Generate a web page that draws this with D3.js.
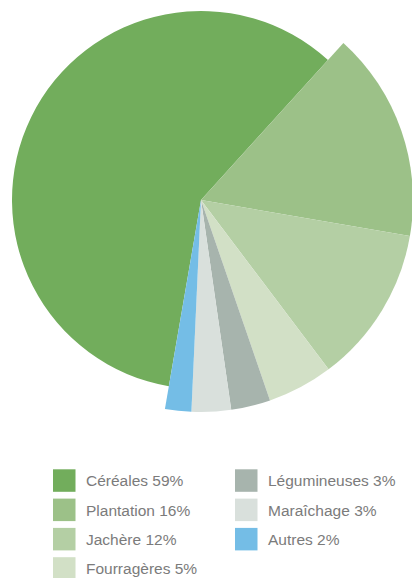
<!DOCTYPE html>
<html>
<head>
<meta charset="utf-8">
<script src="https://cdn.jsdelivr.net/npm/d3@7"></script>
<style>
  html, body { margin: 0; padding: 0; background: #fff; }
  svg { display: block; }
</style>
</head>
<body>
<div id="chart"></div>
<script>
// surfaces agricoles, part en %
var categories = ['Céréales', 'Plantation', 'Jachère', 'Fourragères', 'Légumineuses', 'Maraîchage', 'Autres']
var values = [59, 16, 12, 5, 3, 3, 2]
var colors = ['#72ad5c', '#9cc188', '#b4cfa4', '#d2e0c6', '#a7b4ad', '#d9e0dc', '#74bde6']

var width = 412, height = 578
var cx = 201, cy = 200

var svg = d3.select('#chart').append('svg')
    .attr('width', width)
    .attr('height', height)

var data = categories.map((c, i) => ({ name: c, value: values[i], color: colors[i] }))

var pie = d3.pie()
    .sort(null)
    .value(d => d.value)
    .startAngle(189.8 * Math.PI / 180)
    .endAngle((189.8 + 360) * Math.PI / 180)

// first slice sits slightly inside the others
var arc = d3.arc()
    .innerRadius(0)
    .outerRadius((d, i) => i === 0 ? 189 : 212)

svg.append('g')
    .attr('transform', `translate(${cx},${cy})`)
    .selectAll('path')
    .data(pie(data))
    .enter()
    .append('path')
    .attr('d', (d, i) => arc(d, i))
    .style('fill', d => d.data.color)

// legend, two columns
var colX = [53, 235]
var rowY = d3.scaleLinear().domain([0, 1]).range([469.3, 498.6])
var perCol = 4

var legend = svg.append('g')
    .selectAll('g')
    .data(data)
    .enter()
    .append('g')
    .attr('transform', (d, i) => `translate(${colX[Math.floor(i / perCol)]},${rowY(i % perCol)})`)

legend.append('rect')
    .attr('width', 22.5)
    .attr('height', 22.5)
    .style('fill', d => d.color)

legend.append('text')
    .attr('x', 33)
    .attr('y', 11.5)
    .attr('dy', '0.35em')
    .style('font-family', 'Liberation Sans, Arial, sans-serif')
    .style('font-size', '15.5px')
    .style('fill', '#7b7b7b')
    .text(d => `${d.name} ${d.value}%`)
</script>
</body>
</html>
